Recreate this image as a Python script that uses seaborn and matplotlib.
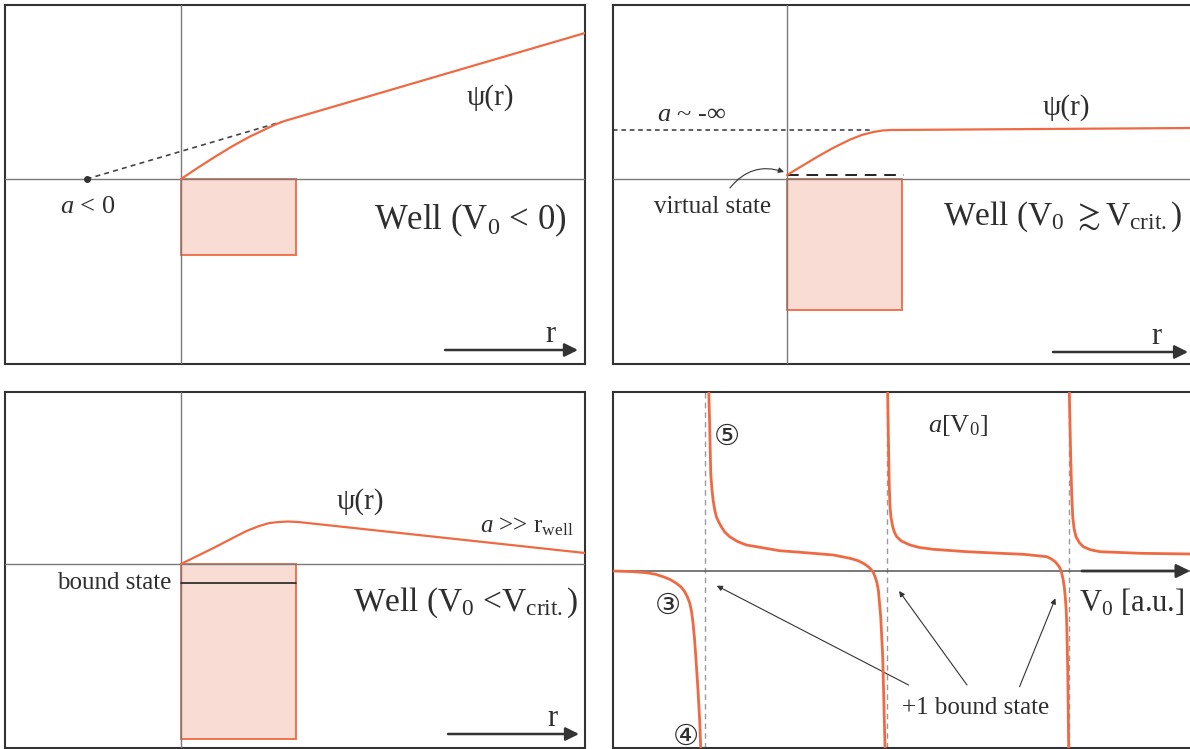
import matplotlib
matplotlib.use("Agg")
import matplotlib.pyplot as plt
from matplotlib.patches import Rectangle
import pandas as pd
import seaborn as sns

# ---------------- data ----------------
WELL_WIDTH = 1.0

# Well (V0 < 0): wavefunction and the extrapolated scattering length
p1_r = [0.0, 0.15, 0.30, 0.45, 0.60, 0.72, 0.82, 0.90, 3.513]
p1_psi = [0.0, 0.115, 0.225, 0.33, 0.425, 0.49, 0.545, 0.580, 1.46]
p1_depth = 0.76
p1_a = -0.82
p1_kink = (0.870, 0.57)

# Well (V0 >~ Vcrit): flat wavefunction outside, virtual state
p2_r = [0.0, 0.13, 0.26, 0.40, 0.55, 0.65, 0.75, 0.83, 0.90, 3.53]
p2_psi = [0.04, 0.13, 0.22, 0.31, 0.395, 0.44, 0.47, 0.485, 0.49, 0.51]
p2_depth = 1.31
p2_virtual = 0.04
p2_plateau = 0.49
p2_plateau_end = 0.72

# Well (V0 < Vcrit): bound state
p3_r = [0.0, 0.15, 0.30, 0.45, 0.57, 0.68, 0.77, 0.85, 0.93, 1.02, 1.10, 3.513]
p3_psi = [0.0, 0.085, 0.17, 0.26, 0.33, 0.38, 0.41, 0.42, 0.425, 0.42, 0.41, 0.11]
p3_depth = 1.75
p3_bound = -0.19

# Scattering length a versus well depth V0, one list per branch
b1_v0 = [0.496, 0.600, 0.679, 0.730, 0.771, 0.810, 0.844, 0.870, 0.890, 0.905, 0.918,
         0.928, 0.936, 0.944, 0.951, 0.963, 0.973, 0.978, 0.980]
b1_a = [0.0, -0.006, -0.017, -0.033, -0.057, -0.085, -0.123, -0.16, -0.207, -0.26, -0.323,
        -0.41, -0.523, -0.68, -0.857, -1.19, -1.523, -1.78, -2.0]
b2_v0 = [1.021, 1.022, 1.027, 1.033, 1.039, 1.046, 1.055, 1.064, 1.077, 1.091, 1.110, 1.137,
         1.180, 1.229, 1.412, 1.595, 1.707, 1.798, 1.840, 1.871, 1.890, 1.908, 1.925, 1.936,
         1.946, 1.954, 1.967, 1.978, 1.985, 1.991, 1.992]
b2_a = [2.0, 1.81, 1.477, 0.977, 0.83, 0.71, 0.61, 0.543, 0.49, 0.443, 0.39, 0.343,
        0.295, 0.26, 0.203, 0.177, 0.16, 0.127, 0.105, 0.077, 0.055, 0.027, -0.01, -0.057,
        -0.115, -0.19, -0.457, -0.857, -1.357, -1.78, -2.0]
b3_v0 = [2.004, 2.005, 2.011, 2.014, 2.018, 2.024, 2.033, 2.043, 2.055, 2.080, 2.128, 2.180,
         2.256, 2.440, 2.623, 2.751, 2.879, 2.905, 2.925, 2.940, 2.953, 2.962, 2.970, 2.976,
         2.981, 2.986, 2.989, 2.995, 3.000, 3.001]
b3_a = [2.0, 1.81, 1.143, 0.85, 0.643, 0.53, 0.443, 0.385, 0.343, 0.30, 0.26, 0.235,
        0.217, 0.193, 0.177, 0.167, 0.143, 0.12, 0.093, 0.062, 0.027, -0.025, -0.09, -0.165,
        -0.257, -0.38, -0.523, -1.023, -1.78, -2.0]
b4_v0 = [3.002, 3.003, 3.011, 3.016, 3.022, 3.030, 3.040, 3.058, 3.080, 3.120, 3.172, 3.392,
         3.667, 3.70]
b4_a = [2.0, 1.81, 1.143, 0.80, 0.543, 0.42, 0.343, 0.285, 0.243, 0.212, 0.193, 0.177,
        0.17, 0.17]
poles = [1.0, 2.0, 3.0]

# ---------------- style ----------------
sns.set_theme(style="white")
plt.rcParams["font.family"] = ["Liberation Serif", "DejaVu Serif", "DejaVu Sans"]
plt.rcParams["mathtext.fontset"] = "custom"
plt.rcParams["mathtext.rm"] = "Liberation Serif"
plt.rcParams["mathtext.it"] = "Liberation Serif:italic"
plt.rcParams["mathtext.fallback"] = "stix"

ORANGE = "#EF6A43"
FILL = "#F9DDD5"
TXT = "#2e2e2e"
AXIS = "#7a7a7a"

fig = plt.figure(figsize=(11.9, 7.49), dpi=100)
W, H = 1190.0, 749.0


def make_axes(x0, y0, x1, y1, xlim, ylim):
    ax = fig.add_axes([x0 / W, 1 - y1 / H, (x1 - x0) / W, (y1 - y0) / H])
    ax.set_xlim(*xlim)
    ax.set_ylim(*ylim)
    ax.set_xticks([])
    ax.set_yticks([])
    for s in ax.spines.values():
        s.set_color("#333333")
        s.set_linewidth(1.5)
        s.set_visible(True)
    return ax


def cross(ax):
    ax.axhline(0, color=AXIS, lw=1.0, zorder=3)
    ax.axvline(0, color=AXIS, lw=1.0, zorder=3)


def well(ax, depth):
    ax.add_patch(Rectangle((0, -depth), WELL_WIDTH, depth, facecolor=FILL,
                           edgecolor=ORANGE, lw=1.3, zorder=1))


def r_arrow(ax, x0, x1, y, tx, ty):
    ax.annotate("", xy=(x1, y), xytext=(x0, y),
                arrowprops=dict(arrowstyle="-|>", color="#333333", lw=1.8,
                                mutation_scale=20, shrinkA=0, shrinkB=0))
    ax.text(tx, ty, "r", fontsize=22, color=TXT, ha="center", va="center")


def curve(ax, x, y, lw=1.6):
    sns.lineplot(x=x, y=y, ax=ax, color=ORANGE, lw=lw, sort=False,
                 estimator=None, zorder=4)


# ---- top left ----
ax1 = make_axes(5, 5, 585, 364, (-1.530, 3.513), (-1.85, 1.74))
well(ax1, p1_depth)
cross(ax1)
ax1.plot([p1_a, p1_kink[0]], [0, p1_kink[1]], ls=(0, (3, 2.5)), color="#444444", lw=1.2, zorder=4)
ax1.plot([p1_a], [0], "o", color="#333333", ms=4, zorder=5)
curve(ax1, p1_r, p1_psi)
ax1.text(p1_a + 0.01, -0.28, r"$\mathit{a}$ < 0", fontsize=19, color=TXT, ha="center", va="center")
ax1.text(2.687, 0.81, "ψ(r)", fontsize=21, color=TXT, ha="center", va="center")
ax1.text(3.35, -0.41, r"Well (V$_{\mathrm{0}}$ < 0)", fontsize=25, color=TXT,
         ha="right", va="center")
r_arrow(ax1, 2.296, 3.452, -1.71, 3.209, -1.56)

# ---- top right ----
ax2 = make_axes(613, 5, 1193, 364, (-1.513, 3.530), (-1.85, 1.74))
well(ax2, p2_depth)
cross(ax2)
ax2.plot([-1.513, p2_plateau_end], [p2_plateau, p2_plateau], ls=(0, (3, 2.5)),
         color="#333333", lw=1.1, zorder=4)
ax2.plot([0, 1.02], [p2_virtual, p2_virtual], ls=(0, (6, 4)), color="#222222", lw=1.4, zorder=4)
curve(ax2, p2_r, p2_psi)
ax2.text(-0.826, 0.64, r"$\mathit{a}$ ~ -∞", fontsize=19, color=TXT, ha="center", va="center")
ax2.text(-0.643, -0.28, "virtual state", fontsize=18, color=TXT, ha="center", va="center")
ax2.annotate("", xy=(-0.026, 0.07), xytext=(-0.496, -0.09),
             arrowprops=dict(arrowstyle="-|>", color="#333333", lw=0.8, mutation_scale=8,
                             connectionstyle="arc3,rad=-0.35", shrinkA=0, shrinkB=0))
ax2.text(2.426, 0.71, "ψ(r)", fontsize=21, color=TXT, ha="center", va="center")
ax2.text(3.44, -0.38, r"Well (V$_{\mathrm{0}}$ ${\gtrsim}$V$_{\mathrm{crit.}}$)", fontsize=24,
         color=TXT, ha="right", va="center")
r_arrow(ax2, 2.313, 3.487, -1.73, 3.209, -1.57)

# ---- bottom left ----
ax3 = make_axes(5, 392, 585, 748, (-1.530, 3.513), (-1.84, 1.72))
well(ax3, p3_depth)
ax3.plot([0, WELL_WIDTH], [p3_bound, p3_bound], color="#222222", lw=1.2, zorder=4)
cross(ax3)
curve(ax3, p3_r, p3_psi)
ax3.text(1.557, 0.62, "ψ(r)", fontsize=21, color=TXT, ha="center", va="center")
ax3.text(3.009, 0.37, r"$\mathit{a}$ >> r$_{\mathrm{well}}$", fontsize=18, color=TXT,
         ha="center", va="center")
ax3.text(-0.087, p3_bound, "bound state", fontsize=18, color=TXT, ha="right", va="center")
ax3.text(3.46, -0.39, r"Well (V$_{\mathrm{0}}$ <V$_{\mathrm{crit.}}$)", fontsize=24, color=TXT,
         ha="right", va="center")
r_arrow(ax3, 2.322, 3.461, -1.70, 3.226, -1.55)

# ---- bottom right: a[V0] ----
ax4 = make_axes(613, 392, 1193, 748, (0.496, 3.683), (-1.77, 1.79))
ax4.axhline(0, color="#555555", lw=1.1, zorder=3)
for p in poles:
    ax4.axvline(p, color="#9a9a9a", lw=1.0, ls=(0, (4, 3)), zorder=2)
branches = pd.concat([
    pd.DataFrame({"V0": b1_v0, "a": b1_a, "branch": 1}),
    pd.DataFrame({"V0": b2_v0, "a": b2_a, "branch": 2}),
    pd.DataFrame({"V0": b3_v0, "a": b3_a, "branch": 3}),
    pd.DataFrame({"V0": b4_v0, "a": b4_a, "branch": 4}),
])
sns.lineplot(data=branches, x="V0", y="a", units="branch", estimator=None, sort=False,
             ax=ax4, color=ORANGE, lw=2.0, zorder=4)
ax4.set_xlabel("")
ax4.set_ylabel("")
ax4.annotate("", xy=(3.667, 0), xytext=(3.073, 0),
             arrowprops=dict(arrowstyle="-|>", color="#333333", lw=2.0,
                             mutation_scale=20, shrinkA=0, shrinkB=0), zorder=5)
ax4.text(3.348, -0.32, r"V$_{\mathrm{0}}$ [a.u.]", fontsize=22, color=TXT, ha="center", va="center")
ax4.text(2.393, 1.46, r"$\mathit{a}$[V$_{\mathrm{0}}$]", fontsize=19, color=TXT, ha="center", va="center")
for s, (x, y) in zip(["③", "④", "⑤"], [(0.798, -0.35), (0.896, -1.657), (1.124, 1.343)]):
    ax4.text(x, y, s, fontsize=21, color=TXT, ha="center", va="center",
             family=["DejaVu Sans", "Noto Sans CJK SC"])
ax4.text(2.491, -1.37, "+1 bound state", fontsize=18, color=TXT, ha="center", va="center")
for tail, head in [((2.120, -1.14), (1.066, -0.147)),
                   ((2.441, -1.14), (2.068, -0.20)),
                   ((2.730, -1.157), (2.927, -0.273))]:
    ax4.annotate("", xy=head, xytext=tail,
                 arrowprops=dict(arrowstyle="-|>", color="#333333", lw=0.8,
                                 mutation_scale=8, shrinkA=0, shrinkB=0))

fig.savefig("out.png", dpi=100)
